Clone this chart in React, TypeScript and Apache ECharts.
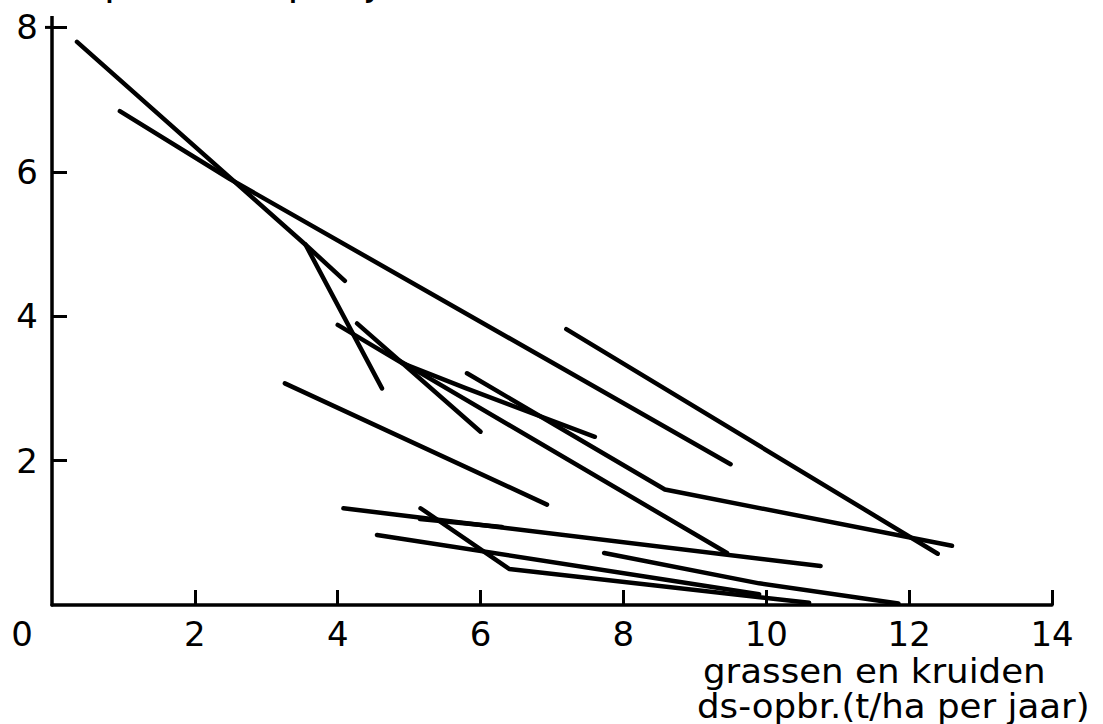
import React, { useEffect, useRef } from "react";
import * as echarts from "echarts";

// Each trajectory: [grassen en kruiden ds-opbr., y-value] pairs
const lineA = [[0.35, 7.8], [3.55, 4.99], [4.1, 4.49]];
const lineA2 = [[3.55, 4.99], [4.62, 3.0]];
const lineB = [[0.95, 6.84], [2.49, 5.9], [9.5, 1.95]];
const lineC = [[7.2, 3.82], [12.4, 0.71]];
const lineD = [[5.81, 3.21], [8.58, 1.6], [12.6, 0.82]];
const lineE = [[4.0, 3.88], [4.9, 3.35], [5.8, 3.0], [7.6, 2.33]];
const lineF = [[4.27, 3.9], [6.0, 2.4]];
const lineG = [[4.75, 3.45], [9.45, 0.72]];
const lineH = [[3.26, 3.07], [6.93, 1.39]];
const lineJ = [[4.08, 1.34], [10.76, 0.54]];
const lineK = [[5.15, 1.19], [6.3, 1.08]];
const lineL = [[5.16, 1.34], [6.4, 0.5], [10.6, 0.03]];
const lineM = [[4.55, 0.97], [9.9, 0.15]];
const lineN = [[7.73, 0.72], [9.9, 0.3], [11.85, 0.02]];

const allLines = [lineA, lineA2, lineB, lineC, lineD, lineE, lineF, lineG, lineH, lineJ, lineK, lineL, lineM, lineN];

const xTicks = { min: 0, max: 14, interval: 2 };
const yTicks = { min: 0, max: 8, interval: 2 };
const xTitleLines = ["grassen en kruiden", "ds-opbr.(t/ha per jaar)"];
const yTitle = "ds-opbr.(t/ha per jaar)";

const FONT = "DejaVu Sans";

export default function App() {
  const ref = useRef<HTMLDivElement>(null);
  useEffect(() => {
    document.body.style.margin = "0";
    const chart = echarts.init(ref.current!, null, { renderer: "svg" });
    const axisCommon = {
      axisLine: { show: true, onZero: false, lineStyle: { color: "#000", width: 3.5 } },
      axisTick: { show: true, inside: true, length: 15, lineStyle: { color: "#000", width: 3 } },
      splitLine: { show: false },
      axisLabel: { color: "#000", fontFamily: FONT, fontSize: 34, lineHeight: 28, showMinLabel: false },
    };
    const titleStyle = { fill: "#000", font: `33px '${FONT}'`, lineHeight: 33, align: "left", verticalAlign: "middle" };
    chart.setOption({
      animation: false,
      backgroundColor: "#fff",
      grid: { left: 52, right: 51, top: 27.4, bottom: 119, containLabel: false },
      xAxis: {
        type: "value",
        ...xTicks,
        ...axisCommon,
        axisLabel: { ...axisCommon.axisLabel, margin: 15 },
      },
      yAxis: {
        type: "value",
        ...yTicks,
        ...axisCommon,
        axisLabel: { ...axisCommon.axisLabel, margin: 14 },
      },
      graphic: [
        { type: "line", shape: { x1: 52, y1: 16, x2: 52, y2: 28 }, style: { stroke: "#000", lineWidth: 3.5 } },
        { type: "line", shape: { x1: 45, y1: 27.4, x2: 52, y2: 27.4 }, style: { stroke: "#000", lineWidth: 3 } },
        { type: "text", x: 22, y: 634, style: { text: "0", fill: "#000", font: `34px '${FONT}'`, lineHeight: 28, align: "center", verticalAlign: "middle" } },
        { type: "text", x: 703, y: 671, scaleX: 1.08, style: { ...titleStyle, text: xTitleLines[0] } },
        { type: "text", x: 697, y: 706, scaleX: 1.08, style: { ...titleStyle, text: xTitleLines[1] } },
        { type: "text", x: 18, y: 0, style: { text: yTitle, fill: "#000", font: `40px '${FONT}'`, align: "left", verticalAlign: "bottom" } },
      ],
      series: allLines.map((d) => ({
        type: "line",
        data: d,
        showSymbol: false,
        silent: true,
        lineStyle: { color: "#000", width: 4.5, cap: "round", join: "round" },
      })),
    });
    return () => chart.dispose();
  }, []);
  return <div ref={ref} style={{ width: 1103, height: 724, position: "fixed", left: 0, top: 0, background: "#fff" }} />;
}
